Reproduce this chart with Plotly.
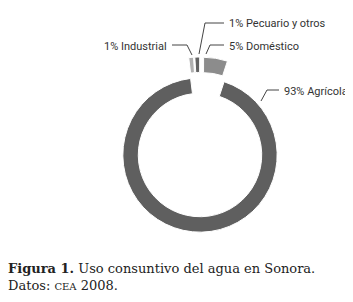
import plotly.graph_objects as go

# the page body keeps its default 8px margin, so the figure is drawn 8px in
W, H = 353, 302
OFF = 8
FW, FH = W - OFF, H - 2 * OFF

# data
categories = ["Industrial", "Pecuario y otros", "Doméstico", "Agrícola"]
values = [1, 1, 5, 93]
labels = ["1% Industrial", "1% Pecuario y otros", "5% Doméstico", "93% Agrícola"]
colors = ["#b0b0b0", "#626262", "#8c8c8c", "#5f5f5f"]
pulls = [0.27, 0.27, 0.27, 0]


def px(x):
    return (x - OFF) / FW


def py(y):
    return 1 - (y - OFF) / FH


# pie geometry (screen pixels)
cx, cy, half = 200, 155, 98

fig = go.Figure()
fig.add_trace(go.Pie(
    labels=categories,
    values=values,
    hole=0.8,
    sort=False,
    direction="clockwise",
    rotation=-7,
    pull=pulls,
    marker=dict(colors=colors, line=dict(color="white", width=1)),
    textinfo="none",
    hoverinfo="label+percent",
    showlegend=False,
    domain=dict(x=[px(cx - half), px(cx + half)], y=[py(cy + half), py(cy - half)]),
))

label_font = dict(family="Roboto", size=11, color="#333")

# label text positions and leader lines
label_pos = [
    (169, 46, "right"),
    (227, 24, "left"),
    (227, 46, "left"),
    (282, 91, "left"),
]
leaders = [
    [(172, 45), (187, 45), (192, 55)],
    [(224, 23), (205, 23), (199, 54)],
    [(224, 45), (210, 45), (206, 54)],
    [(279, 90), (267, 90), (261, 101)],
]

for text, (x, y, anchor) in zip(labels, label_pos):
    fig.add_annotation(x=px(x), y=py(y), xref="paper", yref="paper", text=text,
                       showarrow=False, xanchor=anchor, yanchor="middle", font=label_font)

for pts in leaders:
    path = "M " + " L ".join(f"{px(x)},{py(y)}" for x, y in pts)
    fig.add_shape(type="path", path=path, xref="paper", yref="paper",
                  line=dict(color="#444", width=1))

cap_font = dict(family="DejaVu Serif, Liberation Serif, serif", size=13, color="#222")
fig.add_annotation(x=px(6), y=py(268), xref="paper", yref="paper",
                   text="<b>Figura 1.</b> Uso consuntivo del agua en Sonora.",
                   showarrow=False, xanchor="left", yanchor="middle", font=cap_font)
fig.add_annotation(x=px(6), y=py(285), xref="paper", yref="paper",
                   text="Datos: <span style='font-size:10px'>CEA</span> 2008.",
                   showarrow=False, xanchor="left", yanchor="middle", font=cap_font)

fig.update_layout(width=FW, height=FH, margin=dict(l=0, r=0, t=0, b=0),
                  paper_bgcolor="white", plot_bgcolor="white")

fig.write_html("out.html")
